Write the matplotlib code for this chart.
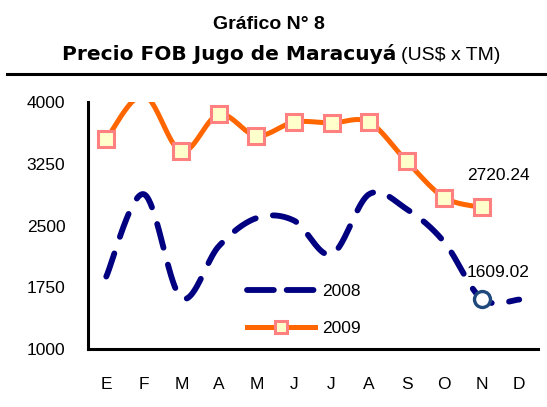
import numpy as np
import matplotlib
matplotlib.use("Agg")
import matplotlib.pyplot as plt
from matplotlib.lines import Line2D

plt.rcParams['font.family'] = ['Liberation Sans', 'DejaVu Sans']

# Monthly FOB price of passion-fruit juice (US$ per metric ton)
months = ["E", "F", "M", "A", "M", "J", "J", "A", "S", "O", "N", "D"]
price_2008 = [1880, 2880, 1620, 2250, 2590, 2560, 2150, 2880, 2700, 2300, 1609.02, 1600]
price_2009 = [3550, 4080, 3400, 3850, 3590, 3755, 3745, 3755, 3280, 2840, 2720.24]
y_ticks = [1000, 1750, 2500, 3250, 4000]

title_line1 = "Gráfico N° 8"
title_bold = "Precio FOB Jugo de Maracuyá"
title_unit = "(US$ x TM)"

C2008 = "#000080"
C2009 = "#FF6600"
Y_MIN, Y_MAX = 1000, 4000


def smooth_curve(xs, ys, steps=40):
    """Bezier smoothing through every point (Catmull-Rom style control points)."""
    pts = np.column_stack([xs, ys]).astype(float)
    n = len(pts)
    out = [pts[0][None, :]]
    t = np.linspace(0, 1, steps)[1:, None]
    for i in range(n - 1):
        p0 = pts[max(i - 1, 0)]
        p1 = pts[i]
        p2 = pts[i + 1]
        p3 = pts[min(i + 2, n - 1)]
        c1 = p1 + (p2 - p0) / 6.0
        c2 = p2 - (p3 - p1) / 6.0
        seg = ((1 - t) ** 3) * p1 + 3 * ((1 - t) ** 2) * t * c1 \
            + 3 * (1 - t) * t ** 2 * c2 + t ** 3 * p2
        out.append(seg)
    res = np.vstack(out)
    return res[:, 0], res[:, 1]


W, H = 547, 407
fig = plt.figure(figsize=(W / 100, H / 100), dpi=100)
ax = fig.add_axes([87.5 / W, 58 / H, 450.5 / W, 247 / H])

x08 = np.arange(len(price_2008))
x09 = np.arange(len(price_2009))

sx, sy = smooth_curve(x08, price_2008)
ax.plot(sx, sy, color=C2008, lw=4.2, linestyle=(0, (4.2, 3.0)),
        dash_capstyle="round", solid_capstyle="round", zorder=3)

sx, sy = smooth_curve(x09, price_2009)
ax.plot(sx, sy, color=C2009, lw=3.6, solid_capstyle="round", zorder=3)
# markers are only shown for points inside the value range of the axis
p09 = np.array(price_2009, dtype=float)
inside = (p09 >= Y_MIN) & (p09 <= Y_MAX)
ax.plot(x09[inside], p09[inside], linestyle="none", marker="s",
        markersize=11.5, markerfacecolor="#FFFFCC",
        markeredgecolor="#FF8080", markeredgewidth=2.2, zorder=4)

# highlighted last 2008 value
last08 = len(price_2008) - 2
ax.plot([x08[last08]], [price_2008[last08]], linestyle="none", marker="o",
        markersize=11.5, markerfacecolor="white", markeredgecolor="#1F497D",
        markeredgewidth=2.4, zorder=5)

fs = 12.5
ax.annotate(f"{price_2009[-1]:.2f}", (x09[-1], price_2009[-1]),
            xytext=(12, 23), textcoords="offset points",
            ha="center", va="center", fontsize=fs, color="black")
ax.annotate(f"{price_2008[last08]:.2f}", (x08[last08], price_2008[last08]),
            xytext=(12, 19), textcoords="offset points",
            ha="center", va="center", fontsize=fs, color="black")

ax.set_xlim(-0.5, 11.5)
ax.set_ylim(Y_MIN, Y_MAX)
ax.set_xticks(np.arange(len(months)))
ax.set_xticklabels(months)
ax.set_yticks(y_ticks)
ax.set_yticklabels([str(v) for v in y_ticks])
ax.tick_params(axis="both", length=0, labelsize=fs, colors="black")
ax.tick_params(axis="y", pad=16)
ax.tick_params(axis="x", pad=20)
for s in ["top", "right"]:
    ax.spines[s].set_visible(False)
for s in ["left", "bottom"]:
    ax.spines[s].set_linewidth(2.2)
    ax.spines[s].set_color("black")

handles = [
    Line2D([], [], color=C2008, lw=4.2, linestyle=(0, (4.6, 2.2)),
           dash_capstyle="round"),
    Line2D([], [], color=C2009, lw=3.6, marker="s", markersize=9,
           markerfacecolor="#FFFFCC", markeredgecolor="#FF8080",
           markeredgewidth=2.2),
]
leg = ax.legend(handles, ["2008", "2009"], loc="upper left",
                bbox_to_anchor=(247 / W, (H - 284) / H),
                bbox_transform=fig.transFigure, frameon=False,
                borderpad=0, borderaxespad=0, handlelength=3.9,
                handletextpad=0.45, labelspacing=1.25, numpoints=1,
                fontsize=fs)

# title block
fig.text(269 / W, 1 - 29 / H, title_line1, ha="center", va="baseline",
         fontsize=14, fontweight="bold")
fig.text(396 / W, 1 - 60 / H, title_bold, ha="right", va="baseline",
         fontsize=14.5, fontweight="bold", family=["DejaVu Sans"])
fig.text(401 / W, 1 - 60 / H, title_unit, ha="left", va="baseline",
         fontsize=14)
fig.add_artist(Line2D([7 / W, 1.0], [1 - 74 / H, 1 - 74 / H],
                      transform=fig.transFigure, color="black", lw=2.2))

fig.savefig("out.png", dpi=100)
